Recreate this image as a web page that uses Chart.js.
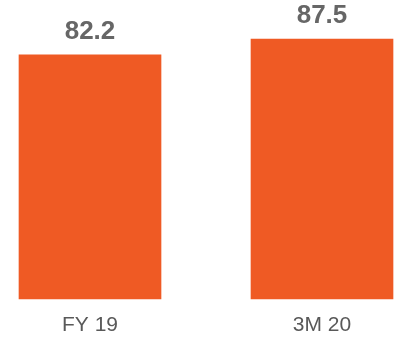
<!DOCTYPE html>
<html>
<head>
<meta charset="utf-8">
<script src="https://cdn.jsdelivr.net/npm/chart.js@4"></script>
<style>
  html, body { margin: 0; padding: 0; background: #fff; }
  canvas { display: block; }
</style>
</head>
<body>
<canvas id="chart" width="394" height="337"></canvas>
<script>
// 数据
const categories = ['FY 19', '3M 20'];
const values = [82.2, 87.5];

// 柱顶数值标签
const valueLabels = {
    id: 'valueLabels',
    afterDatasetsDraw(chart) {
        const ctx = chart.ctx;
        const meta = chart.getDatasetMeta(0);
        ctx.save();
        ctx.font = 'bold 26px "Liberation Sans", Arial, sans-serif';
        ctx.fillStyle = '#666666';
        ctx.textAlign = 'center';
        ctx.textBaseline = 'alphabetic';
        meta.data.forEach((bar, i) => {
            ctx.fillText(values[i].toFixed(1), bar.x, bar.y - 16);
        });
        ctx.restore();
    }
};

new Chart(document.getElementById('chart'), {
    type: 'bar',
    data: {
        labels: categories,
        datasets: [{
            data: values,
            backgroundColor: '#EF5A24',
            borderWidth: 0,
            barThickness: 142,
            clip: false
        }]
    },
    options: {
        responsive: false,
        animation: false,
        layout: {
            padding: { left: 90, right: 72, top: 2, bottom: -15 }
        },
        scales: {
            x: {
                offset: false,
                grid: { display: false, drawTicks: false, offset: false },
                border: { display: false },
                ticks: {
                    padding: 14,
                    color: '#595959',
                    font: { family: '"Liberation Sans", Arial, sans-serif', size: 21 }
                }
            },
            y: {
                display: false,
                min: 0,
                max: 100
            }
        },
        plugins: {
            legend: { display: false },
            tooltip: { enabled: false }
        }
    },
    plugins: [valueLabels]
});
</script>
</body>
</html>
